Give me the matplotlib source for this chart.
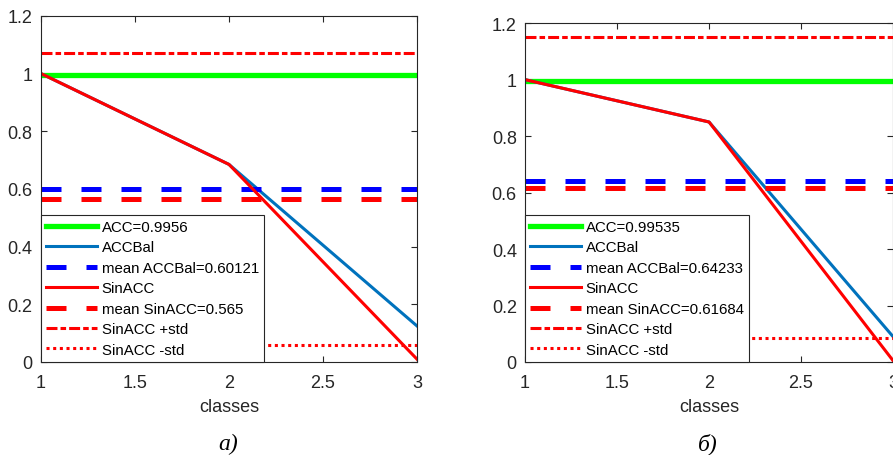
import numpy as np
import matplotlib
matplotlib.use('Agg')
from matplotlib import pyplot as plt

plt.rcParams['font.family'] = ['Liberation Sans', 'DejaVu Sans']
plt.rcParams['lines.scale_dashes'] = False

classes = [1, 2, 3]

# panel a)
acc_a = 0.9956
accbal_a = [1.0, 0.685, 0.125]
sinacc_a = [1.0, 0.685, 0.01]
mean_accbal_a = 0.60121
mean_sinacc_a = 0.565
std_sinacc_a = 0.505

# panel b)
acc_b = 0.99535
accbal_b = [1.0, 0.85, 0.09]
sinacc_b = [1.0, 0.85, 0.005]
mean_accbal_b = 0.64233
mean_sinacc_b = 0.61684
std_sinacc_b = 0.533

dark = (0.15, 0.15, 0.15)
matlab_blue = (0, 0.447, 0.741)

fig = plt.figure(figsize=(8.93, 4.56), dpi=100)
ax1 = fig.add_axes([0.0459, 0.204, 0.421, 0.759])
ax2 = fig.add_axes([0.588, 0.204, 0.412, 0.743])


def draw(ax, acc, accbal, sinacc, m_bal, m_sin, sd):
    x = np.array(classes)
    ones = np.ones_like(x, dtype=float)
    ax.plot(x, acc * ones, color=(0, 1, 0), lw=3.8, label='ACC=%g' % acc)
    ax.plot(x, accbal, color=matlab_blue, lw=2.2, label='ACCBal')
    ax.plot(x, m_bal * ones, color=(0, 0, 1), lw=3.6, dashes=(14.4, 14.4),
            dash_capstyle='butt', label='mean ACCBal=%g' % m_bal)
    ax.plot(x, sinacc, color=(1, 0, 0), lw=2.2, label='SinACC')
    ax.plot(x, m_sin * ones, color=(1, 0, 0), lw=3.6, dashes=(14.4, 14.4),
            dash_capstyle='butt', label='mean SinACC=%g' % m_sin)
    ax.plot(x, (m_sin + sd) * ones, color=(1, 0, 0), lw=2.2,
            dashes=(7.9, 2.2, 4.0, 2.2), dash_capstyle='butt', label='SinACC +std')
    ax.plot(x, (m_sin - sd) * ones, color=(1, 0, 0), lw=2.2,
            dashes=(2.2, 2.6), dash_capstyle='butt', label='SinACC -std')

    ax.set_xlim(1, 3)
    ax.set_ylim(0, 1.2)
    ax.set_xticks([1, 1.5, 2, 2.5, 3])
    ax.set_xticklabels(['1', '1.5', '2', '2.5', '3'])
    ax.set_yticks([0, 0.2, 0.4, 0.6, 0.8, 1, 1.2])
    ax.set_yticklabels(['0', '0.2', '0.4', '0.6', '0.8', '1', '1.2'])
    ax.tick_params(direction='in', top=True, right=True, length=4, width=0.8,
                   labelsize=13, colors=dark)
    ax.tick_params(axis='x', pad=9)
    ax.tick_params(axis='y', pad=6)
    for s in ax.spines.values():
        s.set_color(dark)
        s.set_linewidth(0.8)
    ax.set_xlabel('classes', fontsize=13, color=dark, labelpad=5)

    leg = ax.legend(loc='lower left', bbox_to_anchor=(0, 0), borderaxespad=0,
                    fontsize=10.8, handlelength=3.4, handletextpad=0.3,
                    labelspacing=0.43, borderpad=0.35, fancybox=False,
                    framealpha=1, edgecolor=dark)
    leg.get_frame().set_linewidth(0.8)
    for t in leg.get_texts():
        t.set_color('black')


draw(ax1, acc_a, accbal_a, sinacc_a, mean_accbal_a, mean_sinacc_a, std_sinacc_a)
draw(ax2, acc_b, accbal_b, sinacc_b, mean_accbal_b, mean_sinacc_b, std_sinacc_b)

fig.text(0.256, 0.026, 'а)', family='Liberation Serif', style='italic',
         fontsize=17, ha='center', va='center')
fig.text(0.793, 0.026, 'б)', family='Liberation Serif', style='italic',
         fontsize=17, ha='center', va='center')

fig.savefig('out.png', dpi=100)
